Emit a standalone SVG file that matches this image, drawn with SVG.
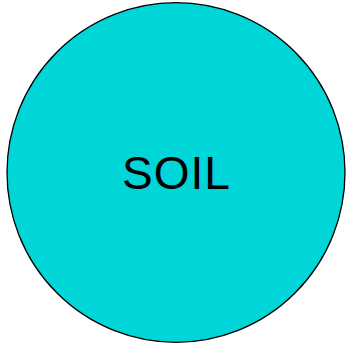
<svg xmlns="http://www.w3.org/2000/svg" width="346" height="346" viewBox="0 0 346 346">
<style>
.node{fill:#00D5D8;stroke:#000;stroke-width:1.3}
.lbl{font-family:"Liberation Sans",Arial,sans-serif;font-size:46px;letter-spacing:1px;fill:#000;text-anchor:middle}
</style>
<g id="connectors"></g>
<g id="soil">
<ellipse class="node" cx="176" cy="172.5" rx="169" ry="169.8"/>
<text class="lbl" x="176.5" y="188.5">SOIL</text>
</g>
</svg>
